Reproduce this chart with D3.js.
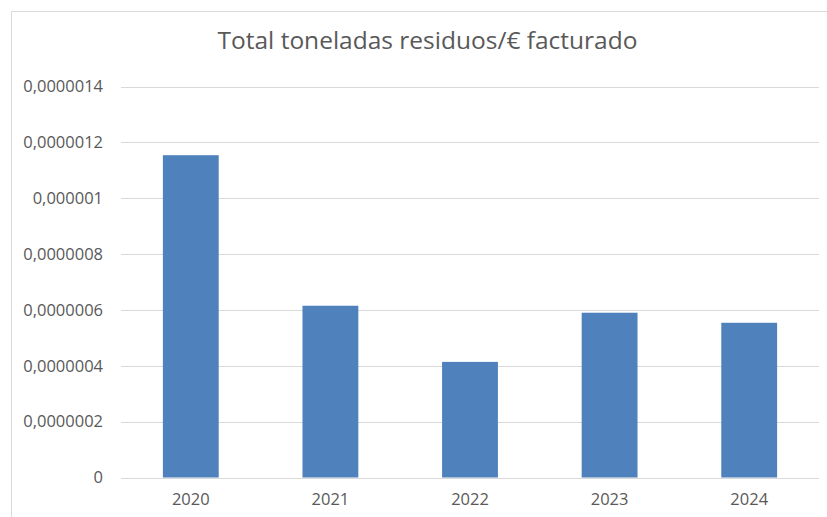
<!DOCTYPE html>
<html>
<head>
<meta charset="utf-8">
<script src="https://cdn.jsdelivr.net/npm/d3@7"></script>
<style>
  body { margin: 0; background: #fff; }
  text { font-family: "Open Sans", sans-serif; fill: #595959; }
</style>
</head>
<body>
<svg id="chart" width="827" height="517"></svg>
<script>
const years = ['2020', '2021', '2022', '2023', '2024'];
const values = [0.000001154, 0.000000615, 0.000000414, 0.000000590, 0.000000554];
const tickValues = [0, 0.0000002, 0.0000004, 0.0000006, 0.0000008, 0.000001, 0.0000012, 0.0000014];
const tickLabels = ['0', '0,0000002', '0,0000004', '0,0000006', '0,0000008', '0,000001', '0,0000012', '0,0000014'];
const title = 'Total toneladas residuos/€ facturado';

const svg = d3.select('#chart');
const plotLeft = 121, plotRight = 819, plotTop = 86.5, plotBottom = 477.5;

// chart frame (right and bottom edges fall outside the picture)
svg.append('rect')
  .attr('x', 11.5).attr('y', 11.5)
  .attr('width', 840).attr('height', 520)
  .attr('fill', 'none').attr('stroke', '#d9d9d9');

const x = d3.scaleBand().domain(years).range([plotLeft, plotRight]).paddingInner(0.6).paddingOuter(0.3);
const y = d3.scaleLinear().domain([0, 0.0000014]).range([plotBottom, plotTop]);

// gridlines
svg.append('g')
  .selectAll('line')
  .data(tickValues)
  .join('line')
  .attr('x1', plotLeft).attr('x2', plotRight)
  .attr('y1', d => Math.round(y(d)) + 0.5)
  .attr('y2', d => Math.round(y(d)) + 0.5)
  .attr('stroke', '#d9d9d9');

// bars
svg.append('g')
  .selectAll('rect')
  .data(values)
  .join('rect')
  .attr('x', (d, i) => x(years[i]))
  .attr('width', x.bandwidth())
  .attr('y', d => y(d))
  .attr('height', d => y(0) - y(d))
  .attr('fill', '#4f81bd');

// y axis labels
const yAxis = d3.axisLeft(y)
  .tickValues(tickValues)
  .tickFormat((d, i) => tickLabels[i])
  .tickSize(0)
  .tickPadding(18);
svg.append('g')
  .attr('transform', `translate(${plotLeft},0)`)
  .call(yAxis)
  .call(g => g.select('.domain').remove())
  .call(g => g.selectAll('text').attr('font-size', 16.5).attr('fill', '#595959')
    .attr('font-family', '"Open Sans", sans-serif'));

// x axis labels
const xAxis = d3.axisBottom(x).tickSize(0).tickPadding(16);
svg.append('g')
  .attr('transform', `translate(0,${plotBottom})`)
  .call(xAxis)
  .call(g => g.select('.domain').remove())
  .call(g => g.selectAll('text').attr('font-size', 16.5).attr('fill', '#595959')
    .attr('font-family', '"Open Sans", sans-serif'));

// title
svg.append('text')
  .attr('x', 427.5).attr('y', 49)
  .attr('text-anchor', 'middle')
  .attr('font-size', 24.5)
  .text(title);
</script>
</body>
</html>
